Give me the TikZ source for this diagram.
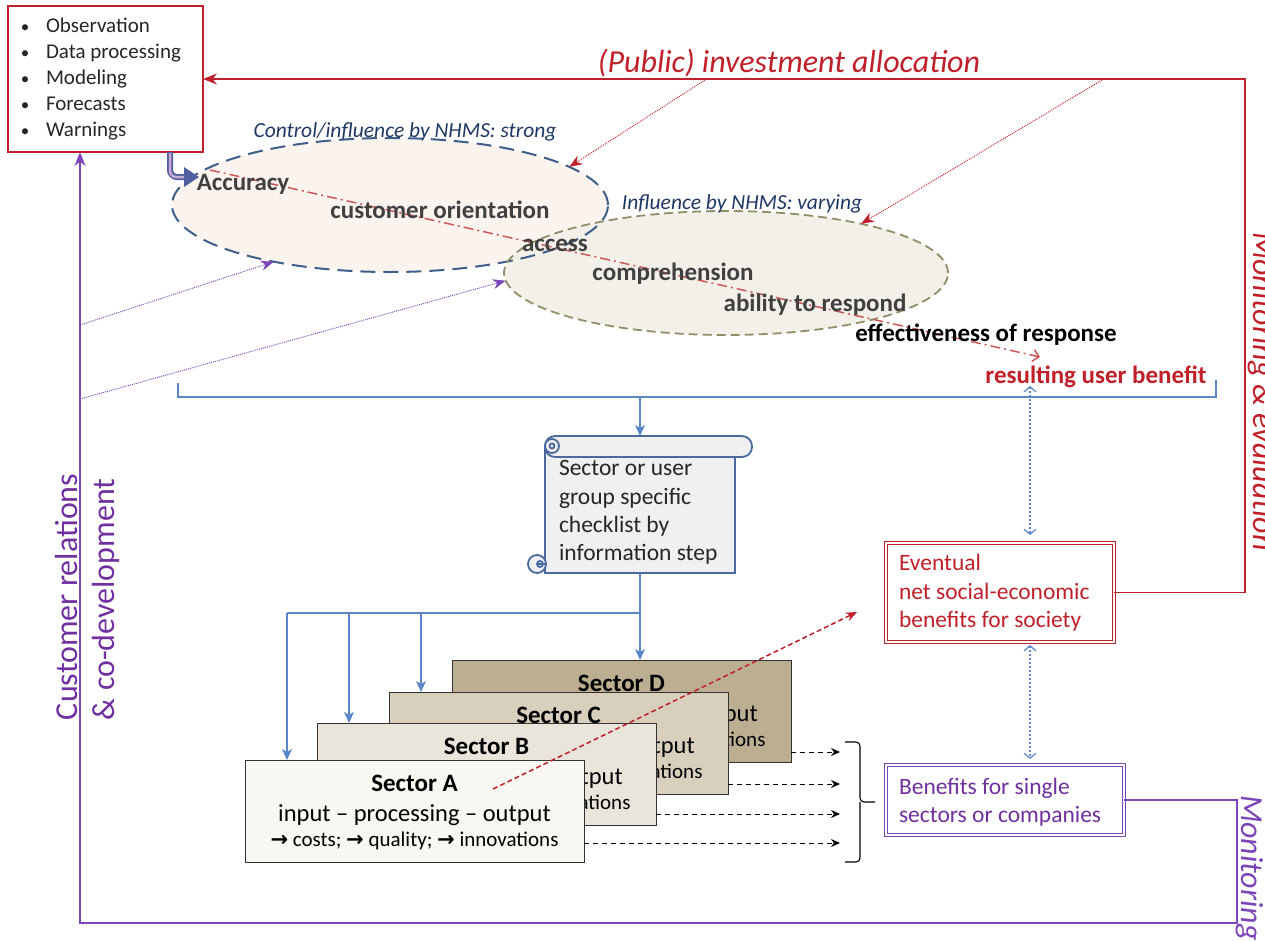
\documentclass[tikz,border=0pt]{standalone}
\usepackage{fontspec}
\setmainfont{Carlito}
\newfontfamily\dejavu{DejaVu Sans}
\usetikzlibrary{arrows.meta,shapes.geometric,calc}
\definecolor{myred}{RGB}{192,32,42}
\definecolor{lightred}{RGB}{205,88,88}
\definecolor{mypurple}{RGB}{124,70,185}
\definecolor{txtpurple}{RGB}{112,48,160}
\definecolor{lineblue}{RGB}{91,134,200}
\definecolor{scrollblue}{RGB}{74,106,158}
\definecolor{darkblue}{RGB}{31,56,100}
\definecolor{ellblue}{RGB}{63,95,138}
\definecolor{ellolive}{RGB}{143,143,106}
\definecolor{ellfillA}{RGB}{251,243,238}
\definecolor{ellfillB}{RGB}{242,240,233}
\definecolor{txtgray}{RGB}{64,64,64}
\definecolor{darktext}{RGB}{38,38,38}
\definecolor{secD}{RGB}{188,174,144}
\definecolor{secC}{RGB}{216,208,188}
\definecolor{secB}{RGB}{233,229,218}
\definecolor{secA}{RGB}{248,247,242}
\definecolor{bentblue}{RGB}{80,96,160}
\definecolor{lavender}{RGB}{200,170,210}
\definecolor{scrollfill}{RGB}{240,240,243}
\newcommand{\myarr}{{\dejavu\bfseries →}}
\newcommand{\mysector}[5]{%
  \node[secbox, fill=#3, anchor=north west] (#1) at (#4,#5) {};
  \node[sectitle] (#1t) at ($(#1.north)+(0,31)$) {Sector #2};
  \node[secline] (#1l) at ($(#1.north)+(0,61)$) {input – processing – output};
  \node[secsmall] (#1s) at ($(#1.north)+(0,86)$) {\myarr{} costs; \myarr{} quality; \myarr{} innovations};
}
\begin{document}
\begin{tikzpicture}[x=1pt,y=-1pt,
  every node/.style={inner sep=0pt, outer sep=0pt},
  redline/.style={draw=myred, line width=1.3pt},
  purpleline/.style={draw=mypurple, line width=1.3pt},
  blueline/.style={draw=lineblue, line width=1.3pt},
  bluearrow/.style={blueline, -{Stealth[length=11pt,width=10pt,inset=3pt]}},
  blackdash/.style={draw=black, line width=1pt, dash pattern=on 5pt off 4pt, -{Stealth[length=9pt,width=8pt]}},
  bluedot/.style={draw=lineblue, line width=1.2pt, dash pattern=on 2pt off 2pt, {Straight Barb[length=5pt,width=12pt]}-{Straight Barb[length=5pt,width=12pt]}},
  reddot/.style={draw=myred, line width=0.9pt, dash pattern=on 1pt off 1pt, -{Stealth[length=13pt,width=10pt]}},
  purpledot/.style={draw=mypurple, line width=0.9pt, dash pattern=on 1pt off 1pt, -{Stealth[length=13pt,width=10pt]}},
  ellbold/.style={font=\fontsize{25}{30}\selectfont\bfseries, text=txtgray, anchor=base},
  elllabel/.style={font=\fontsize{21.5}{26}\selectfont\itshape, text=darkblue, anchor=base},
  secbox/.style={draw=black!80, line width=1pt, minimum width=339pt, minimum height=102pt},
  sectitle/.style={font=\fontsize{25}{30}\selectfont\bfseries, text=black, anchor=base},
  secline/.style={font=\fontsize{24.5}{29}\selectfont, text=black, anchor=base},
  secsmall/.style={font=\fontsize{21}{25}\selectfont, text=black, anchor=base},
  boxtext/.style={font=\fontsize{23.5}{28}\selectfont, anchor=base west},
  bigtext/.style={font=\fontsize{32}{38}\selectfont}
]
\useasboundingbox[fill=white] (0,0) rectangle (1265,940);

% ---------- ellipses ----------
\node[ellipse, fill=ellfillA, minimum width=436pt, minimum height=134pt] (ellA) at (390,205) {};
\node[ellipse, fill=ellfillB, minimum width=444pt, minimum height=124pt] (ellB) at (726,273) {};
\draw[draw=ellblue, line width=2pt, dash pattern=on 15pt off 8pt] (ellA.center) ellipse [x radius=218pt, y radius=67pt];
\draw[draw=ellolive, line width=1.8pt, dash pattern=on 9pt off 5pt] (ellB.center) ellipse [x radius=222pt, y radius=62pt];
\node[elllabel] (labA) at (405,137) {Control/influence by NHMS: strong};
\node[elllabel] (labB) at (742,209) {Influence by NHMS: varying};

% ---------- dash-dot chain ----------
\coordinate (ddS) at (210,170);
\coordinate (ddE) at (1040,357);
\draw[draw=lightred, line width=1.5pt, dash pattern=on 10pt off 4pt on 2pt off 4pt, -{Straight Barb[length=6pt,width=12pt]}] (ddS) -- (ddE);

\node[ellbold] (acc) at (243,190) {Accuracy};
\node[ellbold] (cust) at (440,218) {customer orientation};
\node[ellbold] (access) at (555,251) {access};
\node[ellbold] (compr) at (673,280) {comprehension};
\node[ellbold] (abil) at (815,311) {ability to respond};
\node[ellbold, text=black] (effe) at (986,341) {effectiveness of response};
\node[ellbold, text=myred] (resu) at (1096,383) {resulting user benefit};

% ---------- top-left box ----------
\node[draw=myred, line width=1.3pt, minimum width=195pt, minimum height=146pt, anchor=north west] (tlbox) at (8,6) {};
\foreach \t [count=\i] in {Observation, Data processing, Modeling, Forecasts, Warnings} {
  \node[anchor=base, font=\fontsize{17}{26}\selectfont, text=darktext] (bul\i) at (25,{6+26*\i}) {•};
  \node[anchor=base west, font=\fontsize{21}{26}\selectfont, text=darktext] (item\i) at (46,{6+26*\i}) {\t};
}
% bent arrow to Accuracy
\coordinate (bentS) at (170,152);
\coordinate (bentE) at (186,177);
\draw[draw=bentblue, line width=6pt, rounded corners=7pt] (bentS) |- (bentE);
\draw[draw=lavender, line width=2.5pt, rounded corners=6pt] ($(bentS)+(0,1)$) |- ($(bentE)+(-1,0)$);
\fill[bentblue] ($(bentE)+(-2,-10)$) -- ($(bentE)+(13,0)$) -- ($(bentE)+(-2,10)$) -- cycle;

% ---------- red loop ----------
\node[font=\fontsize{32}{38}\selectfont\itshape, text=myred, anchor=base] (pia) at (789,72) {(Public) investment allocation};
\coordinate (rc) at (1245,79);
\node[draw=myred, double=white, double distance=2pt, line width=1pt, minimum width=228pt, minimum height=99pt, anchor=north west] (eventual) at (886,543) {};
\draw[redline, -{Stealth[length=14pt,width=11pt]}] (eventual.east) -| (rc) -- (tlbox.east);
\coordinate (pia1) at (705,80);
\coordinate (pia2) at (1102,80);
\draw[reddot] (pia1) -- (ellA.12);
\draw[reddot] (pia2) -- (ellB.20);
\node[font=\fontsize{32}{38}\selectfont\itshape, text=myred, rotate=-90, anchor=base west] (monev) at (1253,232) {Monitoring \& evaluation};

% ---------- purple loop ----------
\node[draw=mypurple, double=white, double distance=2pt, line width=1pt, minimum width=238pt, minimum height=70pt, anchor=north west] (benef) at (886,765) {};
\coordinate (pc1) at (1237,800);
\coordinate (pc2) at (1237,923);
\coordinate (pc3) at (80,923);
\draw[purpleline, -{Stealth[length=14pt,width=11pt]}] (benef.east) -- (pc1) -- (pc2) -- (pc3) -- (pc3 |- tlbox.south);
\coordinate (pd1) at (80,325);
\coordinate (pd2) at (80,399);
\draw[purpledot] (pd1) -- (ellA.206);
\draw[purpledot] (pd2) -- (ellB.182);
\node[bigtext, text=txtpurple, rotate=90, anchor=base west] (crel) at (77,720) {Customer relations};
\node[bigtext, text=txtpurple, rotate=90, anchor=base west] (codev) at (114,720) {\& co-development};
\node[font=\fontsize{32}{38}\selectfont\itshape, text=mypurple, rotate=-90, anchor=base west] (moni) at (1241,795) {Monitoring};

% ---------- bracket and scroll ----------
\coordinate (brL) at (178,383);
\coordinate (brR) at (1216,380);
\coordinate (brM) at (640,397);
\draw[blueline] (brL) -- (178,397) -- (1216,397) -- (brR);
\node[minimum width=224pt, minimum height=138pt, anchor=north west] (scroll) at (528,436) {};
\draw[bluearrow] (brM) -- (scroll.north);
\begin{scope}[draw=scrollblue, line width=1.8pt, fill=scrollfill]
  \filldraw (545,448) -- (545,573) -- (735,573) -- (735,448) -- cycle;
  \filldraw[rounded corners=10pt] (545,436) rectangle (752,457);
  \filldraw (552,446) circle [radius=7pt];
  \draw (552,446) circle [radius=2.5pt];
  \filldraw (537,564) circle [radius=9pt];
  \draw (537,564) -- (545,564);
  \draw (540,564) circle [radius=3pt];
\end{scope}
\node[boxtext, text=darktext] (sc1) at (559,475.5) {Sector or user};
\node[boxtext, text=darktext] (sc2) at (559,504.5) {group specific};
\node[boxtext, text=darktext] (sc3) at (559,532.5) {checklist by};
\node[boxtext, text=darktext] (sc4) at (559,560.5) {information step};

% ---------- sectors ----------
\mysector{secD}{D}{secD}{452}{660}
\mysector{secC}{C}{secC}{389}{692}
\mysector{secB}{B}{secB}{317}{723}
\mysector{secA}{A}{secA}{245}{760}
\coordinate (split) at (640,613);
\coordinate (splitC) at (421,613);
\coordinate (splitB) at (349,613);
\coordinate (splitL) at (287,613);
\draw[blueline] (scroll.south) -- (split) -- (splitL);
\draw[bluearrow] (split) -- (split |- secD.north);
\draw[bluearrow] (splitC) -- (splitC |- secC.north);
\draw[bluearrow] (splitB) -- (splitB |- secB.north);
\draw[bluearrow] (splitL) -- (splitL |- secA.north);

% red dashed arrow sector A -> society
\coordinate (rdS) at (493,789);
\coordinate (rdE) at (857,612);
\draw[draw=myred, line width=1.5pt, dash pattern=on 5pt off 3pt, -{Stealth[length=11pt,width=9pt]}] (rdS) -- (rdE);

% dashed outputs and brace
\coordinate (braceL) at (840,742);
\path ($(secD.south east)+(0,-10)$) coordinate (dD);
\path ($(secC.south east)+(0,-10)$) coordinate (dC);
\path ($(secB.south east)+(0,-11)$) coordinate (dB);
\path ($(secA.south east)+(0,-19)$) coordinate (dA);
\draw[blackdash] (dD) -- (dD -| braceL);
\draw[blackdash] (dC) -- (dC -| braceL);
\draw[blackdash] (dB) -- (dB -| braceL);
\draw[blackdash] (dA) -- (dA -| braceL);
\coordinate (brT) at (845,742);
\coordinate (brB) at (845,862);
\coordinate (brTip) at (875,802);
\coordinate (brMid) at (860,802);
\draw[black, line width=1.1pt, rounded corners=4pt] (brT) -| (brMid) -- (brTip);
\draw[black, line width=1.1pt, rounded corners=4pt] (brB) -| (brMid);

% ---------- benefit boxes text ----------
\node[boxtext, text=myred] (ev1) at (899,570.5) {Eventual};
\node[boxtext, text=myred] (ev2) at (899,599.5) {net social-economic};
\node[boxtext, text=myred] (ev3) at (899,627.5) {benefits for society};
\node[boxtext, text=txtpurple] (be1) at (899,794.5) {Benefits for single};
\node[boxtext, text=txtpurple] (be2) at (899,822.5) {sectors or companies};
\coordinate (rub) at (1030,386);
\draw[bluedot, shorten >=8pt] (rub) -- (rub |- eventual.north);
\draw[bluedot, shorten <=3pt, shorten >=6pt] (eventual.south -| rub) -- (rub |- benef.north);
\end{tikzpicture}
\end{document}
